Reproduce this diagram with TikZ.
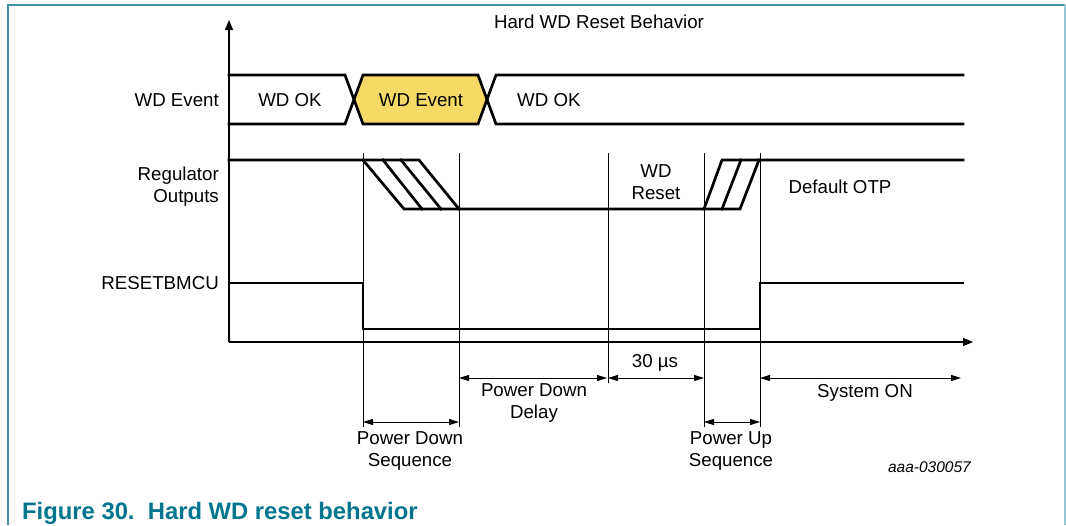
\documentclass[tikz,border=0pt]{standalone}
\usepackage{fontspec}
\setmainfont{Liberation Sans}
\usetikzlibrary{arrows.meta}
\definecolor{frameteal}{RGB}{70,145,165}
\definecolor{framelight}{RGB}{150,200,212}
\definecolor{captionteal}{RGB}{0,117,143}
\definecolor{evyellow}{RGB}{247,218,102}
\begin{document}
\begin{tikzpicture}[x=1pt,y=-1pt,
  sig/.style={line width=2.7pt, line join=miter, line cap=rect},
  guide/.style={line width=0.8pt},
  axis/.style={line width=1.2pt, -{Triangle[length=10pt,width=8pt]}},
  dim/.style={line width=0.9pt, {Triangle[length=10pt,width=6pt]}-{Triangle[length=10pt,width=6pt]}},
  lbl/.style={font=\fontsize{18.7}{22}\selectfont, align=center, inner sep=0pt},
  rowlbl/.style={lbl, align=right, anchor=east}]
\useasboundingbox (0,0) rectangle (1066,525);
% frame
\draw[frameteal, line width=1.5pt] (8,525) -- (8,5) -- (1065,5);
\draw[framelight, line width=1.5pt] (1065,5) -- (1065,525);
% title
\node[lbl] (title) at (599,22) {Hard WD Reset Behavior};
% axes
\coordinate (origin) at (229,342);
\coordinate (ytip) at (229,20);
\coordinate (xtip) at (973,342);
\draw[axis] (origin) -- (ytip);
\draw[axis] (origin) -- (xtip);
% row labels
\node[rowlbl] (lwd) at (219,100) {WD Event};
\node[rowlbl] (lreg) at (219,187) {Regulator\\Outputs};
\node[rowlbl] (lrst) at (219,283) {RESETBMCU};
% WD event row
\draw[sig] (229,75) -- (345,75) -- (354,99.5) -- (345,124) -- (229,124);
\draw[sig, fill=evyellow] (354,99.5) -- (363,75) -- (478,75) -- (487,99.5) -- (478,124) -- (363,124) -- cycle;
\draw[sig] (963,75) -- (496,75) -- (487,99.5) -- (496,124) -- (963,124);
\node[lbl] (ok1) at (290,100) {WD OK};
\node[lbl] (ev) at (421,100) {WD Event};
\node[lbl, anchor=west] (ok2) at (517,100) {WD OK};
% guide lines
\draw[guide] (363,153) -- (363,427);
\draw[guide] (459,153) -- (459,427);
\draw[guide] (608,153) -- (608,383);
\draw[guide] (704,153) -- (704,427);
\draw[guide] (760,153) -- (760,427);
% regulator outputs
\draw[sig] (229,160) -- (419,160) -- (459,209);
\draw[sig] (363,160) -- (404,209) -- (740,209) -- (759,160) -- (963,160);
\draw[sig] (383,160) -- (422,209);
\draw[sig] (401,160) -- (441,209);
\draw[sig] (704,209) -- (722,160) -- (759,160);
\draw[sig] (722,209) -- (741,160);
\node[lbl] (wdr) at (656,182) {WD\\Reset};
\node[lbl] (otp) at (840,187) {Default OTP};
% RESETBMCU
\draw[sig] (229,283) -- (363,283) -- (363,329) -- (760,329) -- (760,283) -- (963,283);
% dimension arrows
\draw[dim] (363,422) -- (459,422);
\draw[dim] (459,378) -- (607,378);
\draw[dim] (608,378) -- (704,378);
\draw[dim] (704,422) -- (760,422);
\draw[dim] (760,378) -- (961,378);
\node[lbl] (pds) at (410,451) {Power Down\\Sequence};
\node[lbl] (pdd) at (534,403) {Power Down\\Delay};
\node[lbl] (t30) at (655,363) {30 µs};
\node[lbl] (pus) at (731,451) {Power Up\\Sequence};
\node[lbl] (son) at (865,393) {System ON};
\node[lbl, anchor=east, font=\fontsize{15.5}{18}\selectfont\itshape] (code) at (971,467) {aaa-030057};
% caption
\node[anchor=base west, inner sep=0pt, text=captionteal, font=\fontsize{23.8}{26}\selectfont\bfseries] (cap) at (22,519) {Figure 30.\ \ Hard WD reset behavior};
\end{tikzpicture}
\end{document}
